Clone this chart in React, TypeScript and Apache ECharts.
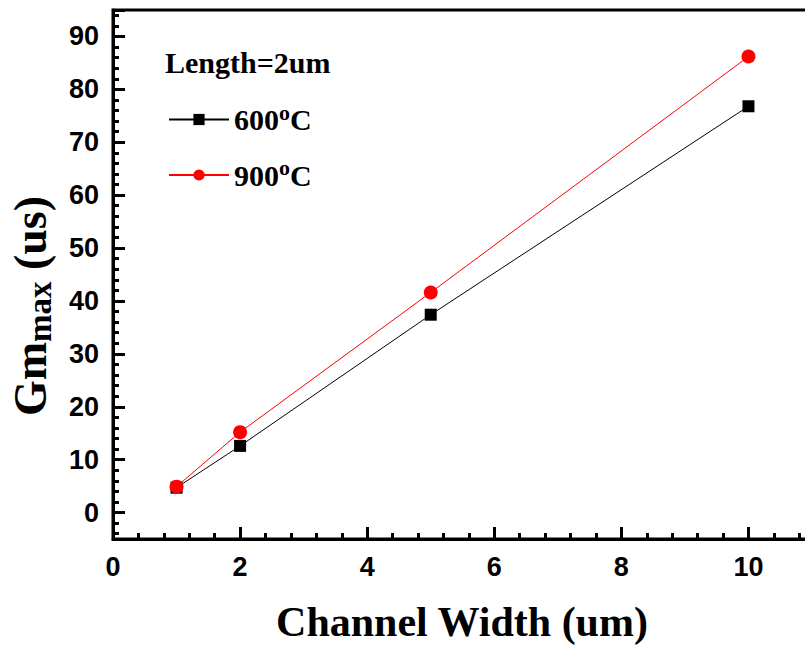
import React, { useEffect, useRef } from "react";
import * as echarts from "echarts";

const widths = [1, 2, 5, 10];
const gm600 = [4.7, 12.6, 37.4, 76.8];
const gm900 = [4.9, 15.2, 41.6, 86.2];
const series600Name = "600";
const series900Name = "900";

export default function App() {
  const ref = useRef<HTMLDivElement>(null);
  useEffect(() => {
    if (!ref.current) return;
    const chart = echarts.init(ref.current, undefined, { renderer: "svg" });
    const serif = "Liberation Serif";
    const sans = "Liberation Sans";
    const labelStyle = () => ({ color: "#000", fontFamily: sans, fontWeight: "bold", fontSize: 27, margin: 14 });
    const thick = () => ({ color: "#000", width: 3 });
    chart.setOption({
      animation: false,
      backgroundColor: "#fff",
      grid: {
        left: 113, top: 10, right: -7, bottom: 107, outerBoundsMode: "none",
        show: true, borderColor: "#000", borderWidth: 3,
      },
      xAxis: {
        type: "value", min: 0, max: 11, interval: 2,
        axisLine: { show: true, onZero: false, lineStyle: thick() },
        axisTick: { show: true, inside: true, length: 12, lineStyle: thick() },
        minorTick: { show: true, splitNumber: 5, length: 6, lineStyle: thick() },
        splitLine: { show: false },
        axisLabel: { ...labelStyle(), formatter: (v: number) => (v <= 10 ? String(v) : "") },
      },
      yAxis: {
        type: "value", min: -5, max: 95, minInterval: 10, maxInterval: 10,
        axisLine: { show: true, onZero: false, lineStyle: thick() },
        axisTick: { show: true, inside: true, length: 12, lineStyle: thick() },
        minorTick: { show: true, splitNumber: 5, length: 6, lineStyle: thick() },
        splitLine: { show: false },
        axisLabel: { ...labelStyle(), formatter: (v: number) => (v >= 0 && v <= 90 ? String(v) : "") },
      },
      legend: {
        left: 163, top: 96, orient: "vertical",
        itemWidth: 60, itemHeight: 14, itemGap: 22,
        data: [series600Name, series900Name],
        formatter: (n: string) => `{a|${n}}{s|o}{a|C}`,
        textStyle: {
          color: "#000",
          rich: {
            a: { fontFamily: serif, fontWeight: "bold", fontSize: 30, color: "#000" },
            s: { fontFamily: serif, fontWeight: "bold", fontSize: 22, color: "#000", padding: [0, 0, 15, 0] },
          },
        },
      },
      graphic: [
        {
          type: "text", left: 165, top: 47,
          style: { text: "Length=2um", fontFamily: serif, fontWeight: "bold", fontSize: 30, fill: "#000" },
        },
        {
          type: "text", x: 30, y: 306, rotation: Math.PI / 2,
          style: {
            text: "{a|Gm}{b|max}{a| (us)}",
            align: "center", verticalAlign: "middle",
            rich: {
              a: { fontFamily: serif, fontWeight: "bold", fontSize: 46, fill: "#000" },
              b: { fontFamily: serif, fontWeight: "bold", fontSize: 33, fill: "#000", padding: [19, 0, 0, 0] },
            },
          },
        },
        {
          type: "text", x: 462, y: 622,
          style: {
            text: "Channel Width (um)", align: "center", verticalAlign: "middle",
            fontFamily: serif, fontWeight: "bold", fontSize: 42, fill: "#000",
          },
        },
      ],
      series: [
        {
          name: series600Name, type: "line",
          data: widths.map((w, i) => [w, gm600[i]]),
          symbol: "rect", symbolSize: 12,
          itemStyle: { color: "#000" },
          lineStyle: { color: "#000", width: 1 },
        },
        {
          name: series900Name, type: "line",
          data: widths.map((w, i) => [w, gm900[i]]),
          symbol: "circle", symbolSize: 14,
          itemStyle: { color: "#ff0000" },
          lineStyle: { color: "#ff0000", width: 1 },
        },
      ],
    });
    return () => chart.dispose();
  }, []);
  return <div ref={ref} style={{ width: 805, height: 646, position: "absolute", left: 0, top: 0 }} />;
}
